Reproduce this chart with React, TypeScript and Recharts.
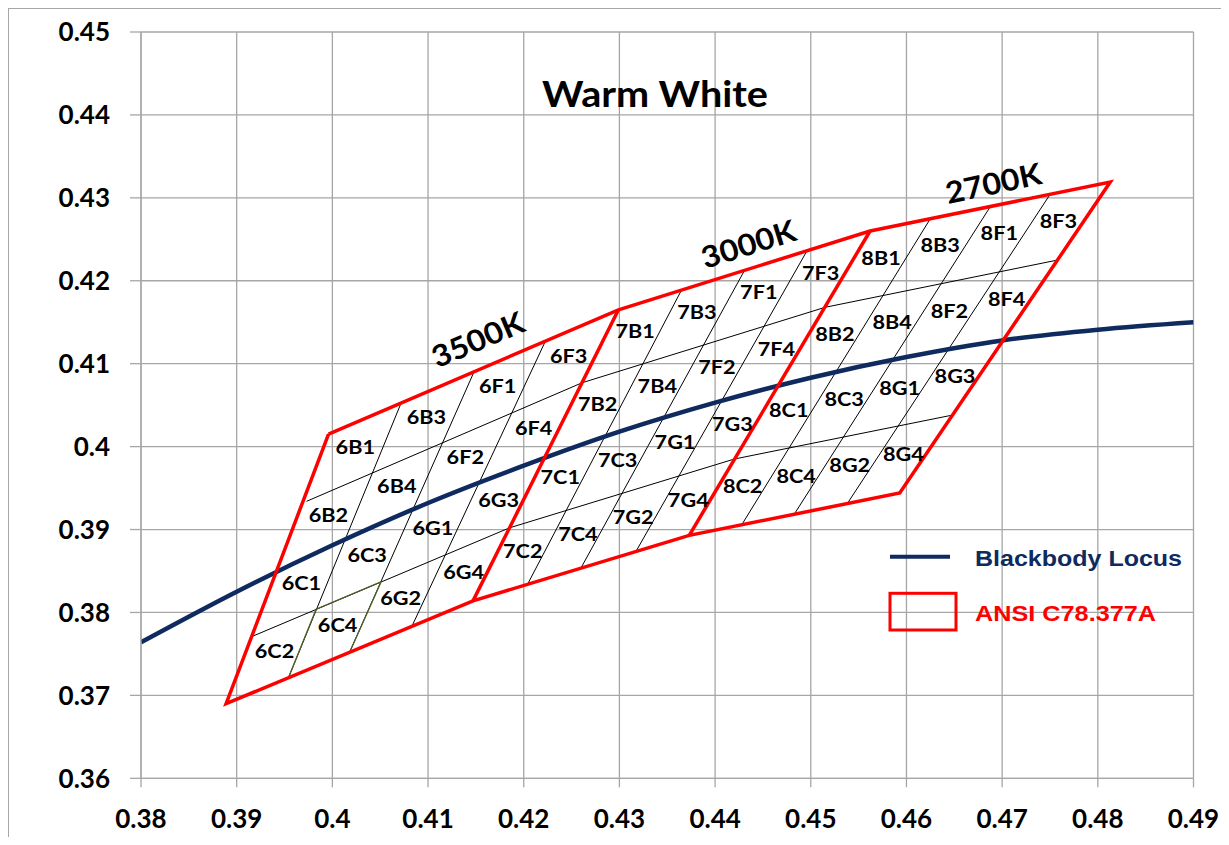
import React from "react";
import { CartesianGrid, ComposedChart, Line, Scatter, XAxis, YAxis } from "recharts";

const xTicks = [0.38, 0.39, 0.4, 0.41, 0.42, 0.43, 0.44, 0.45, 0.46, 0.47, 0.48, 0.49];
const yTicks = [0.36, 0.37, 0.38, 0.39, 0.4, 0.41, 0.42, 0.43, 0.44, 0.45];

// blackbody (Planckian) locus, CIE 1931 x,y
const locusX = [0.38, 0.39, 0.4, 0.41, 0.42, 0.43, 0.44, 0.45, 0.46, 0.47, 0.48, 0.49];
const locusY = [0.3764, 0.3825, 0.3881, 0.3932, 0.3977, 0.4018, 0.4053, 0.4083, 0.4108, 0.4128, 0.4141, 0.415];

// ANSI C78.377A quadrangles (3500K, 3000K, 2700K)
const cctNames = ["3500K", "3000K", "2700K"];
const binPrefixes = ["6", "7", "8"];
const quadTopLeft = [[0.3996, 0.4015], [0.4299, 0.4165], [0.4562, 0.426]];
const quadTopRight = [[0.4299, 0.4165], [0.4562, 0.426], [0.4813, 0.4319]];
const quadBottomRight = [[0.4147, 0.3814], [0.4373, 0.3893], [0.4593, 0.3944]];
const quadBottomLeft = [[0.3889, 0.369], [0.4147, 0.3814], [0.4373, 0.3893]];

// sub-bin names, rows top -> bottom, columns left -> right
const binNames = [
  ["B1", "B3", "F1", "F3"],
  ["B2", "B4", "F2", "F4"],
  ["C1", "C3", "G1", "G3"],
  ["C2", "C4", "G2", "G4"],
];

// sub-bin row dividers (running across all three quadrangles)
const rowLineX = [
  [0.3973, 0.4261, 0.4515, 0.4758],
  [0.3916, 0.4185, 0.442, 0.4648],
];
const rowLineY = [
  [0.3934, 0.4077, 0.4168, 0.4225],
  [0.3771, 0.3902, 0.3985, 0.4038],
];

// sub-bin column dividers (top end / bottom end)
const colTopX = [0.4072, 0.4148, 0.4223, 0.4365, 0.4431, 0.4496, 0.4625, 0.4688, 0.475];
const colTopY = [0.4053, 0.409, 0.4128, 0.4189, 0.4213, 0.4236, 0.4275, 0.429, 0.4304];
const colBottomX = [0.3954, 0.4018, 0.4083, 0.4204, 0.426, 0.4317, 0.4428, 0.4483, 0.4538];
const colBottomY = [0.3721, 0.3752, 0.3783, 0.3834, 0.3854, 0.3873, 0.3906, 0.3919, 0.3931];

// highlighted 6C4 cell edges
const highlightX = [0.3954, 0.3983, 0.4051, 0.4018];
const highlightY = [0.3721, 0.3804, 0.3837, 0.3752];

const NAVY = "#0f2a5e";
const RED = "#ff0000";
const GRID = "#a6a6a6";
const FONT = "Lato, 'Open Sans', sans-serif";

const toPoints = (xs: number[], ys: number[]) => xs.map((x, i) => ({ x, y: ys[i] }));
const toPt = ([x, y]: number[]) => ({ x, y });

const locusData = toPoints(locusX, locusY);

const outline = [
  ...quadTopLeft,
  quadTopRight[2],
  ...quadBottomRight.slice().reverse(),
  quadBottomLeft[0],
  quadTopLeft[0],
].map(toPt);

const dividers = [0, 1].map((i) => [toPt(quadTopRight[i]), toPt(quadBottomRight[i])]);

const rowLines = rowLineX.map((xs, i) => toPoints(xs, rowLineY[i]));
const colLines = colTopX.map((x, i) => [
  { x, y: colTopY[i] },
  { x: colBottomX[i], y: colBottomY[i] },
]);
const highlight = toPoints(highlightX, highlightY);

// label placement: centre of each sub-bin inside its quadrangle
const bilinear = (q: number, t: number, s: number) => {
  const [a, b, c, d] = [quadTopLeft[q], quadTopRight[q], quadBottomRight[q], quadBottomLeft[q]];
  const top = [a[0] + (b[0] - a[0]) * s, a[1] + (b[1] - a[1]) * s];
  const bot = [d[0] + (c[0] - d[0]) * s, d[1] + (c[1] - d[1]) * s];
  return { x: top[0] + (bot[0] - top[0]) * t, y: top[1] + (bot[1] - top[1]) * t };
};

const binLabels = binPrefixes.flatMap((prefix, q) =>
  binNames.flatMap((row, r) =>
    row.map((name, c) => ({ ...bilinear(q, (r + 0.5) / 4, (c + 0.5) / 4), name: prefix + name }))
  )
);

const cctLabels = cctNames.map((name, q) => ({ ...bilinear(q, 0, 0.5), name }));
const cctStyle: Record<string, { dx: number; dy: number; angle: number }> = {
  "3500K": { dx: 4, dy: -33, angle: -23 },
  "3000K": { dx: 4, dy: -27, angle: -17.5 },
  "2700K": { dx: 3, dy: -24, angle: -12 },
};

const BinLabel = (props: any) => {
  const { cx, cy, payload } = props;
  return (
    <text
      transform={`translate(${cx + 4},${cy - 6}) scale(1.14,1)`}
      textAnchor="middle"
      dominantBaseline="central"
      fontFamily={FONT}
      fontWeight={700}
      fontSize={19}
      fill="#000"
    >
      {payload.name}
    </text>
  );
};

const CctLabel = (props: any) => {
  const { cx, cy, payload } = props;
  const st = cctStyle[payload.name];
  return (
    <text
      transform={`translate(${cx + st.dx},${cy + st.dy}) rotate(${st.angle}) scale(1.08,1)`}
      textAnchor="middle"
      dominantBaseline="central"
      fontFamily={FONT}
      fontWeight={700}
      fontSize={30}
      fill="#000"
    >
      {payload.name}
    </text>
  );
};

const tickStyle = { fontFamily: FONT, fontWeight: 700, fontSize: 26, fill: "#000" };

const seg = (data: { x: number; y: number }[], key: string, stroke: string, width: number) => (
  <Line
    key={key}
    data={data}
    dataKey="y"
    type="linear"
    stroke={stroke}
    strokeWidth={width}
    strokeLinejoin="miter"
    dot={false}
    activeDot={false}
    legendType="none"
    isAnimationActive={false}
  />
);

export default function App() {
  return (
    <div
      style={{
        position: "relative",
        width: 1213,
        height: 829,
        boxSizing: "border-box",
        borderTop: `1px solid ${GRID}`,
        borderLeft: `1px solid ${GRID}`,
        background: "#fff",
      }}
    >
      <ComposedChart width={1212} height={828} margin={{ top: 23, right: 27.5, bottom: 8.7, left: 62 }}>
        <CartesianGrid stroke={GRID} strokeWidth={1.3} />
        <XAxis
          type="number"
          dataKey="x"
          domain={[0.38, 0.49]}
          ticks={xTicks}
          allowDataOverflow
          tickSize={9}
          tickMargin={22}
          height={50}
          axisLine={{ stroke: GRID, strokeWidth: 1.3 }}
          tickLine={{ stroke: GRID, strokeWidth: 1.3 }}
          tick={tickStyle}
        />
        <YAxis
          type="number"
          dataKey="y"
          domain={[0.36, 0.45]}
          ticks={yTicks}
          allowDataOverflow
          width={70}
          tickSize={11}
          tickMargin={20}
          axisLine={{ stroke: GRID, strokeWidth: 1.3 }}
          tickLine={{ stroke: GRID, strokeWidth: 1.3 }}
          tick={tickStyle}
        />
        {rowLines.map((d, i) => seg(d, `row${i}`, "#000", 1))}
        {colLines.map((d, i) => seg(d, `col${i}`, "#000", 1))}
        {seg(highlight, "hl", "#4f6228", 1.3)}
        <Line
          data={locusData}
          dataKey="y"
          type="monotone"
          stroke={NAVY}
          strokeWidth={4.5}
          dot={false}
          activeDot={false}
          legendType="none"
          isAnimationActive={false}
        />
        {dividers.map((d, i) => seg(d, `div${i}`, RED, 3.5))}
        {seg(outline, "outline", RED, 3.5)}
        <Scatter data={binLabels} shape={BinLabel} isAnimationActive={false} legendType="none" />
        <Scatter data={cctLabels} shape={CctLabel} isAnimationActive={false} legendType="none" />
      </ComposedChart>

      <svg
        width={1212}
        height={828}
        style={{ position: "absolute", left: 0, top: 0, pointerEvents: "none" }}
      >
        <text
          x={533}
          y={97.7}
          textLength={226}
          lengthAdjust="spacingAndGlyphs"
          fontFamily={FONT}
          fontWeight={700}
          fontSize={36}
          fill="#000"
        >
          Warm White
        </text>
        <line x1={881} y1={547.7} x2={941} y2={547.7} stroke={NAVY} strokeWidth={4} />
        <text
          x={966}
          y={557}
          textLength={207}
          lengthAdjust="spacingAndGlyphs"
          fontFamily="'Liberation Sans', Arial, sans-serif"
          fontWeight={700}
          fontSize={22}
          fill={NAVY}
        >
          Blackbody Locus
        </text>
        <rect x={881} y={584.3} width={66} height={36.7} fill="none" stroke={RED} strokeWidth={3} />
        <text
          x={966}
          y={611.5}
          textLength={181}
          lengthAdjust="spacingAndGlyphs"
          fontFamily="'Liberation Sans', Arial, sans-serif"
          fontWeight={700}
          fontSize={22}
          fill={RED}
        >
          ANSI C78.377A
        </text>
      </svg>
    </div>
  );
}
